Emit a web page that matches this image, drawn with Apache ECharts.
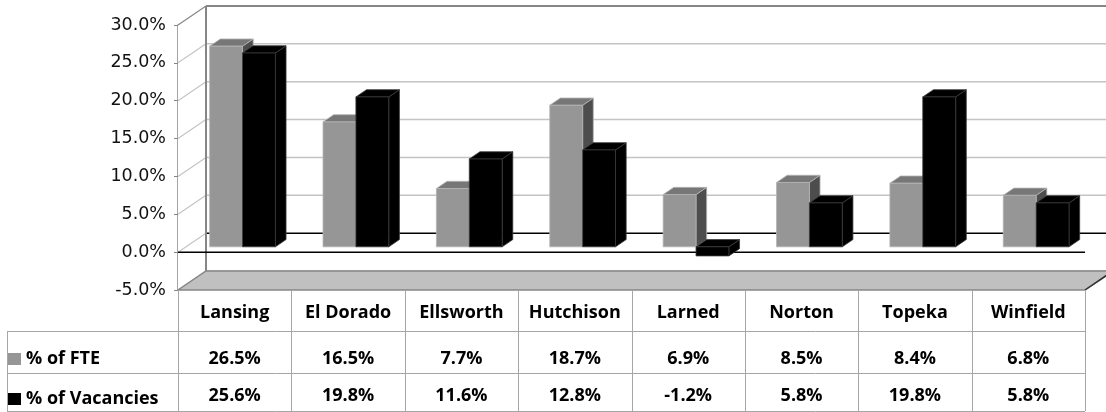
<!DOCTYPE html>
<html>
<head>
<meta charset="utf-8">
<script src="https://cdn.jsdelivr.net/npm/echarts@6/dist/echarts.min.js"></script>
<style>
  html, body { margin: 0; padding: 0; background: #ffffff; }
  #chart { width: 1106px; height: 412px; }
</style>
</head>
<body>
<div id="chart"></div>
<script>
// Facilities and their shares (percent)
const facilities = ['Lansing', 'El Dorado', 'Ellsworth', 'Hutchison', 'Larned', 'Norton', 'Topeka', 'Winfield'];
const pctFTE = [26.5, 16.5, 7.7, 18.7, 6.9, 8.5, 8.4, 6.8];
const pctVacancies = [25.6, 19.8, 11.6, 12.8, -1.2, 5.8, 19.8, 5.8];
const seriesNames = ['% of FTE', '% of Vacancies'];

// Value axis range and step
const yMin = -5;
const yMax = 30;
const yStep = 5;

// Pseudo-3D box: offset of the back wall relative to the front plane (px)
const DEPTH = [28, -19];
const BAR_FRONT = 0.28;   // bar front face depth (fraction of box depth)
const BAR_BACK = 0.66;    // bar back face depth
const BAR_SHARE = 0.29;   // bar width as fraction of the category band

// Data table under the plot (offsets below the floor front edge)
const TABLE_LEFT = 7;
const ROW_LINES = [41, 83, 121];
const ROW_TEXT = [68.5, 106];
const LEGEND_TOPS = [350, 390];

const TEXT_FONT = '"Open Sans", "Liberation Sans", sans-serif';
const AXIS_FONT = '"DejaVu Sans", sans-serif';
const TABLE_SIZE = 18;

const fmtPct = v => v.toFixed(1) + '%';

const palette = {
  fte: { front: '#969696', top: '#777777', side: '#4d4d4d', edge: '#b4b4b4' },
  vac: { front: '#000000', top: '#000000', side: '#000000', edge: '#3a3a3a' }
};

function seg(x1, y1, x2, y2, stroke, lineWidth) {
  return {
    type: 'line',
    shape: { x1, y1, x2, y2 },
    style: { stroke, lineWidth }
  };
}

// Walls, floor, gridlines and the data table
function renderFrame(params, api) {
  const cs = params.coordSys;
  const L = cs.x, R = cs.x + cs.width;
  const [dx, dy] = DEPTH;
  const y = v => api.coord([0, v])[1];
  const yTop = y(yMax), yBot = y(yMin), y0 = y(0);
  const kids = [];

  kids.push({ type: 'polygon', shape: { points: [[L + dx, yTop + dy], [R + dx, yTop + dy], [R + dx, yBot + dy], [L + dx, yBot + dy]] }, style: { fill: '#ffffff' } });
  kids.push({ type: 'polygon', shape: { points: [[L, yTop], [L + dx, yTop + dy], [L + dx, yBot + dy], [L, yBot]] }, style: { fill: '#ffffff' } });

  for (let t = yMin; t <= yMax; t += yStep) {
    const yt = y(t);
    const backColor = t === 0 ? '#000000' : (t === yMax ? '#868686' : '#c4c4c4');
    kids.push(seg(L + dx, yt + dy, R + dx, yt + dy, backColor, t === yMax ? 2 : 1.5));
    kids.push(seg(L, yt, L + dx, yt + dy, t === yMax ? '#868686' : '#c4c4c4', 1.2));
  }
  kids.push(seg(L + dx, yTop + dy, L + dx, yBot + dy, '#868686', 2));

  // floor
  kids.push({ type: 'polygon', shape: { points: [[L, yBot], [L + dx, yBot + dy], [R + dx, yBot + dy], [R, yBot]] }, style: { fill: '#c0c0c0', stroke: '#868686', lineWidth: 1.5 } });
  kids.push(seg(R, yBot, R + dx, yBot + dy, '#333333', 1.5));

  // front zero line
  kids.push(seg(L, y0, R, y0, '#000000', 1.5));

  // table grid
  const tableColor = '#a6a6a6';
  const bottom = yBot + ROW_LINES[ROW_LINES.length - 1];
  ROW_LINES.forEach(off => {
    const yy = Math.round(yBot + off) + 0.5;
    kids.push(seg(TABLE_LEFT, yy, R, yy, tableColor, 1));
  });
  kids.push(seg(TABLE_LEFT + 0.5, yBot + ROW_LINES[0], TABLE_LEFT + 0.5, bottom, tableColor, 1));
  const band = api.size([1, 0])[0];
  for (let k = 0; k <= facilities.length; k++) {
    const xx = Math.round(L + k * band) + 0.5;
    kids.push(seg(xx, yBot, xx, bottom, tableColor, 1));
  }

  // table values
  [pctFTE, pctVacancies].forEach((arr, r) => {
    arr.forEach((v, i) => {
      kids.push({
        type: 'text',
        style: {
          x: api.coord([i, 0])[0],
          y: yBot + ROW_TEXT[r],
          text: fmtPct(v),
          align: 'center',
          verticalAlign: 'middle',
          font: 'bold ' + TABLE_SIZE + 'px ' + TEXT_FONT,
          fill: '#000000'
        }
      });
    });
  });

  return { type: 'group', children: kids };
}

// One 3D column: front, top and right side faces
function barRenderer(side, colors) {
  return function (params, api) {
    const i = api.value(0), v = api.value(1);
    const cx = api.coord([i, 0])[0];
    const band = api.size([1, 0])[0];
    const bw = band * BAR_SHARE;
    const x0 = side < 0 ? cx - bw : cx;
    const x1 = x0 + bw;
    const yZero = api.coord([i, 0])[1];
    const yVal = api.coord([i, v])[1];
    const top = Math.min(yZero, yVal), bot = Math.max(yZero, yVal);
    const fx = DEPTH[0] * BAR_FRONT, fy = DEPTH[1] * BAR_FRONT;
    const bx = DEPTH[0] * BAR_BACK, by = DEPTH[1] * BAR_BACK;
    const edge = { stroke: colors.edge, lineWidth: 0.8, lineJoin: 'round' };
    return {
      type: 'group',
      children: [
        { type: 'polygon', shape: { points: [[x1 + fx, top + fy], [x1 + bx, top + by], [x1 + bx, bot + by], [x1 + fx, bot + fy]] }, style: Object.assign({ fill: colors.side }, edge) },
        { type: 'polygon', shape: { points: [[x0 + fx, top + fy], [x1 + fx, top + fy], [x1 + bx, top + by], [x0 + bx, top + by]] }, style: Object.assign({ fill: colors.top }, edge) },
        { type: 'polygon', shape: { points: [[x0 + fx, top + fy], [x1 + fx, top + fy], [x1 + fx, bot + fy], [x0 + fx, bot + fy]] }, style: Object.assign({ fill: colors.front }, edge) }
      ]
    };
  };
}

const legendText = { fontFamily: TEXT_FONT, fontWeight: 'bold', fontSize: TABLE_SIZE, color: '#000000' };

const chart = echarts.init(document.getElementById('chart'), null, { renderer: 'canvas' });

chart.setOption({
  animation: false,
  backgroundColor: '#ffffff',
  grid: { left: 178, right: 21, top: 25, bottom: 122, containLabel: false },
  // one legend block per table row
  legend: seriesNames.map((name, k) => ({
    data: [name],
    left: 8,
    top: LEGEND_TOPS[k],
    padding: 0,
    icon: 'rect',
    itemWidth: 13,
    itemHeight: 12,
    itemGap: 8,
    selectedMode: false,
    textStyle: legendText
  })),
  xAxis: {
    type: 'category',
    data: facilities,
    axisLine: { show: false },
    axisTick: { show: false },
    splitLine: { show: false },
    axisLabel: {
      interval: 0,
      hideOverlap: false,
      margin: 22.5,
      verticalAlign: 'middle',
      fontFamily: TEXT_FONT,
      fontWeight: 'bold',
      fontSize: TABLE_SIZE,
      color: '#000000'
    }
  },
  yAxis: {
    type: 'value',
    min: yMin,
    max: yMax,
    interval: yStep,
    axisLine: { show: true, lineStyle: { color: '#868686', width: 1.5 } },
    axisTick: { show: true, length: 4, lineStyle: { color: '#868686', width: 1 } },
    splitLine: { show: false },
    axisLabel: {
      margin: 12,
      formatter: v => fmtPct(v),
      fontFamily: AXIS_FONT,
      fontSize: 17.5,
      color: '#111111'
    }
  },
  series: [
    {
      type: 'custom',
      name: 'frame',
      silent: true,
      z: 1,
      data: [[0, 0]],
      encode: { x: 0, y: 1 },
      renderItem: renderFrame
    },
    {
      type: 'custom',
      name: seriesNames[0],
      z: 2,
      itemStyle: { color: palette.fte.front },
      data: pctFTE.map((v, i) => [i, v]),
      encode: { x: 0, y: 1 },
      renderItem: barRenderer(-1, palette.fte)
    },
    {
      type: 'custom',
      name: seriesNames[1],
      z: 3,
      itemStyle: { color: palette.vac.front },
      data: pctVacancies.map((v, i) => [i, v]),
      encode: { x: 0, y: 1 },
      renderItem: barRenderer(1, palette.vac)
    }
  ]
});
</script>
</body>
</html>
